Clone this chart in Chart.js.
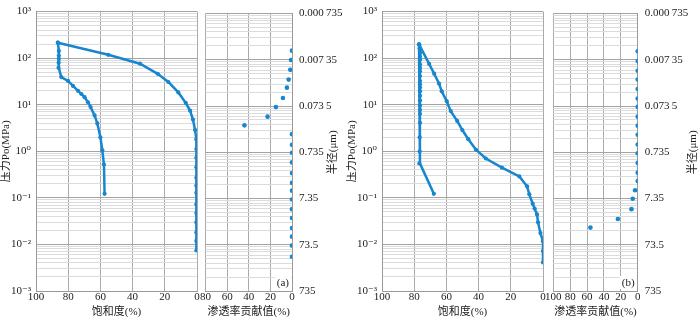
<!DOCTYPE html>
<html>
<head>
<meta charset="utf-8">
<script src="https://cdn.jsdelivr.net/npm/chart.js@4.4.1/dist/chart.umd.min.js"></script>
<style>
  body { margin: 0; background: #fff; width: 700px; height: 319px; overflow: hidden; position: relative; }
  canvas { position: absolute; top: 0; }
</style>
</head>
<body>
<canvas id="mainA" width="201" height="319" style="left:0px"></canvas>
<canvas id="sideA" width="150" height="319" style="left:196px"></canvas>
<canvas id="mainB" width="201" height="319" style="left:346px"></canvas>
<canvas id="sideB" width="156" height="319" style="left:544px"></canvas>
<script>
// axis labels
const decades = [1000, 100, 10, 1, 0.1, 0.01, 0.001];
const pressureLabels = ['10³', '10²', '10¹', '10⁰', '10⁻¹', '10⁻²', '10⁻³'];
const radiusLabels = ['0.000\u2009735', '0.007\u200935', '0.073\u20095', '0.735', '7.35', '73.5', '735'];

// panel (a) - saturation curves
const aInjPressure = [0.0074, 0.0119, 0.0181, 0.0299, 0.0471, 0.0729, 0.128, 0.183, 0.27, 0.452, 0.724, 1.12, 1.82, 2.86, 4.81, 7.5, 11, 18.4, 30.8, 46, 76, 118, 215];
const aInjSat = [0.4, 0.4, 0.4, 0.4, 0.4, 0.4, 0.4, 0.4, 0.4, 0.4, 0.4, 0.4, 0.4, 1.2, 2.5, 4.3, 7.0, 11.6, 17.8, 24.4, 35.4, 55.1, 86.4];
const aWdPressure = [215, 143, 114, 97, 80, 62, 39.3, 32.4, 25.4, 19.9, 17, 14.5, 11.3, 8.9, 5.9, 3.96, 2.0, 1.05, 0.52, 0.122];
const aWdSat = [86.4, 85.8, 85.8, 85.8, 85.9, 86.0, 84.3, 80.1, 77.0, 73.9, 71.8, 69.8, 67.7, 66.1, 63.6, 61.9, 60.0, 58.8, 57.8, 57.4];
// panel (a) - permeability contribution
const aContribPressure = [158, 99, 61, 37.4, 25, 14.9, 9.5, 5.9, 3.83, 2.47, 1.45, 0.98, 0.605, 0.355, 0.218, 0.148, 0.095, 0.059, 0.038, 0.023, 0.015, 0.0096, 0.0055];
const aContrib = [0, 0.9, 1.6, 3.1, 4.7, 8.4, 14.9, 22.6, 44.0, 0, 0, 0, 0, 0, 0, 0, 0, 0, 0, 0, 0, 0, 0];

// panel (b) - saturation curves
const bInjPressure = [0.0041, 0.0072, 0.0117, 0.0175, 0.0298, 0.044, 0.059, 0.075, 0.119, 0.177, 0.288, 0.445, 0.70, 1.08, 1.82, 2.86, 4.5, 7.3, 11.9, 19.4, 28.5, 46.4, 75.4, 198];
const bInjSat = [0, 0, 0, 1.6, 3.1, 3.7, 5.2, 6.4, 8.5, 9.9, 14.7, 25.5, 35.5, 41.6, 46.4, 50.1, 53.3, 57.3, 59.8, 62.9, 64.6, 67.6, 70.7, 77.0];
const bWdPressure = [198, 164, 129, 109, 92.7, 72.7, 61.7, 52.5, 41.2, 32.3, 27.5, 23.4, 19.4, 15.6, 12.3, 9.6, 7.8, 6.4, 4.1, 2.0, 1.0, 0.55, 0.122];
const bWdSat = [77.0, 76.6, 76.4, 76.4, 76.4, 76.4, 76.4, 76.4, 76.4, 76.4, 76.4, 76.4, 76.4, 76.4, 76.4, 76.4, 76.4, 76.4, 76.4, 76.6, 76.6, 76.8, 67.8];
// panel (b) - permeability contribution
const bContribPressure = [153, 94, 58, 37.4, 23.4, 14.5, 9.6, 5.9, 3.77, 2.4, 1.48, 0.955, 0.59, 0.363, 0.24, 0.151, 0.099, 0.059, 0.036, 0.0235];
const bContrib = [0, 0, 0, 0, 0, 0, 0, 0, 0, 0, 0, 0, 0, 0, 0, 3.1, 5.9, 7.4, 23.5, 56.0];

const blue = '#1686ce';
const textColor = '#222';
const numFont = { family: "'Liberation Serif', 'DejaVu Serif', serif", size: 11 };
const cjkFont = { family: "'Liberation Serif', 'Noto Sans CJK SC', serif", size: 11 };

// log ticks 1..9 x 10^n, no 1.5 ticks
const logTicks = [];
decades.slice(1).reverse().forEach(d => {
  for (let k = 1; k <= 9; k++) logTicks.push(Number((k * d).toPrecision(6)));
});
logTicks.push(1000);

function decadeIndex(v) {
  return decades.findIndex(d => Math.abs(Math.log10(v) - Math.log10(d)) < 1e-6);
}
function gridColor(ctx) {
  return decadeIndex(ctx.tick.value) >= 0 ? '#a3a3a3' : '#dcdcdc';
}
function points(xs, ys) {
  return xs.map((x, i) => ({ x: x, y: ys[i] }));
}

const extraText = {
  id: 'extraText',
  afterDraw(chart, args, opts) {
    if (!opts.tag) return;
    const { ctx, chartArea } = chart;
    ctx.save();
    ctx.font = "11px 'Liberation Serif', serif";
    const w = ctx.measureText(opts.tag).width;
    ctx.fillStyle = '#fff';
    ctx.fillRect(chartArea.right - w - 5, chartArea.bottom - 15, w + 4, 13);
    ctx.fillStyle = textColor;
    ctx.textAlign = 'right';
    ctx.textBaseline = 'bottom';
    ctx.fillText(opts.tag, chartArea.right - 3, chartArea.bottom - 2);
    ctx.translate(opts.titleX, (chartArea.top + chartArea.bottom) / 2);
    ctx.rotate(-Math.PI / 2);
    ctx.textAlign = 'center';
    ctx.textBaseline = 'middle';
    ctx.font = "11px 'Liberation Serif', 'Noto Sans CJK SC', serif";
    ctx.fillText('半径(μm)', 0, 0);
    ctx.restore();
  }
};

function yLog(position, labels, width, pad) {
  return {
    type: 'logarithmic', position: position, min: 0.001, max: 1000,
    afterBuildTicks(s) { s.ticks = logTicks.map(v => ({ value: v })); },
    ticks: {
      autoSkip: false, font: numFont, color: textColor, padding: pad,
      callback: v => { const i = decadeIndex(v); return i >= 0 ? labels[i] : ''; }
    },
    grid: { color: gridColor, drawTicks: false },
    border: { color: '#999' },
    title: { display: position === 'left', text: '压力Po(MPa)', font: cjkFont, color: textColor, padding: { top: 0, bottom: 0 } },
    afterFit(s) { s.width = width; }
  };
}
function xLin(max, title) {
  return {
    type: 'linear', reverse: true, min: 0, max: max,
    ticks: { stepSize: 20, font: numFont, color: textColor, padding: 0, autoSkip: false, maxRotation: 0, minRotation: 0 },
    grid: { color: '#aaa', drawTicks: false },
    border: { color: '#999' },
    title: { display: true, text: title, font: cjkFont, color: textColor, padding: { top: 0, bottom: 0 } },
    afterFit(s) { s.height = 28; }
  };
}

function mainChart(id, injX, injY, wdX, wdY) {
  new Chart(document.getElementById(id), {
    type: 'scatter',
    data: {
      datasets: [
        { data: points(injX, injY), showLine: true, borderColor: blue, backgroundColor: blue, borderWidth: 2.5, pointRadius: 2.1, pointBorderWidth: 0 },
        { data: points(wdX, wdY), showLine: true, borderColor: blue, backgroundColor: blue, borderWidth: 2.5, pointRadius: 2.1, pointBorderWidth: 0 }
      ]
    },
    options: {
      responsive: false, animation: false,
      layout: { padding: { top: 6, right: 4, left: 0, bottom: 0 } },
      plugins: { legend: { display: false }, tooltip: { enabled: false } },
      scales: { x: xLin(100, '饱和度(%)'), y: yLog('left', pressureLabels, 36, 5) }
    }
  });
}

function sideChart(id, xMax, vals, pres, padLeft, axisWidth, tag, titleX) {
  new Chart(document.getElementById(id), {
    type: 'scatter',
    data: {
      datasets: [
        { data: points(vals, pres), borderColor: blue, backgroundColor: blue, pointRadius: 2.3, pointBorderWidth: 0 }
      ]
    },
    options: {
      responsive: false, animation: false,
      layout: { padding: { top: 6, right: 0, left: padLeft, bottom: 0 } },
      plugins: { legend: { display: false }, tooltip: { enabled: false }, extraText: { tag: tag, titleX: titleX } },
      scales: { x: xLin(xMax, '渗透率贡献值(%)'), y: yLog('right', radiusLabels, axisWidth, 7) }
    },
    plugins: [extraText]
  });
}

mainChart('mainA', aInjSat, aInjPressure, aWdSat, aWdPressure);
sideChart('sideA', 80, aContrib, aContribPressure, 9.5, 54, '(a)', 137);
mainChart('mainB', bInjSat, bInjPressure, bWdSat, bWdPressure);
sideChart('sideB', 100, bContrib, bContribPressure, 9.3, 62.3, '(b)', 149);
</script>
</body>
</html>
